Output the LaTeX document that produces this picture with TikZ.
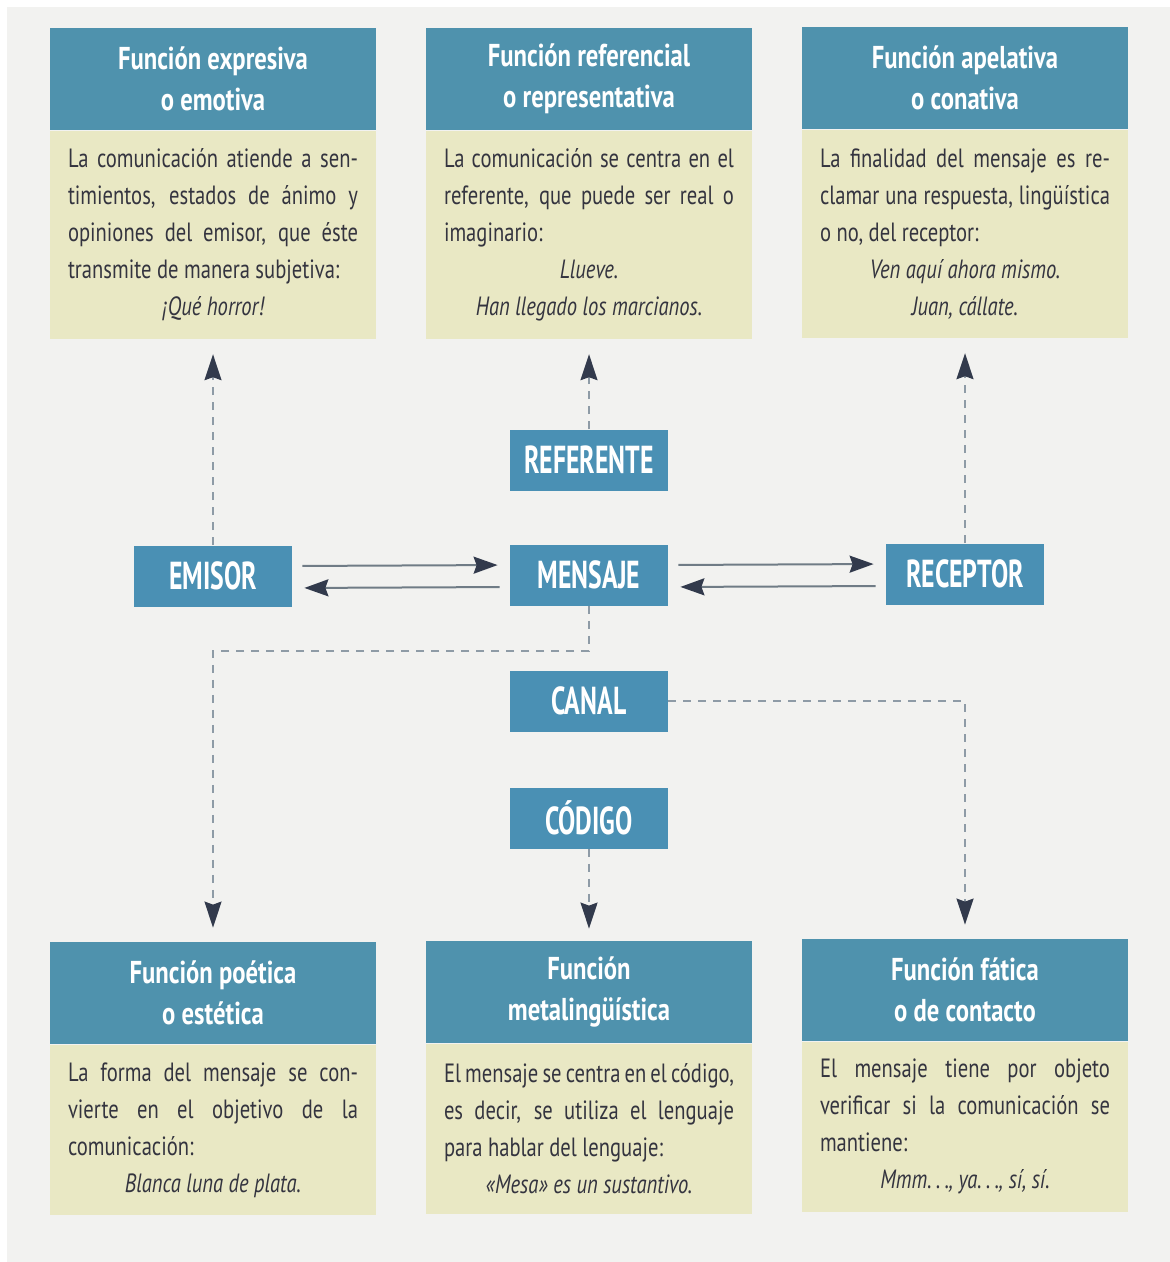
\documentclass[tikz,border=0pt]{standalone}
\usepackage{fontspec}
\usepackage{xcolor}
\usetikzlibrary{arrows.meta}

\setmainfont{PT Sans}[FakeStretch=0.78]
\newfontfamily\agentfont{PT Sans}[FakeStretch=0.66]

\definecolor{bgcolor}{HTML}{F2F2F0}
\definecolor{headblue}{HTML}{4F92AD}
\definecolor{nodeblue}{HTML}{4A90B4}
\definecolor{bodyyellow}{HTML}{E9E8C4}
\definecolor{inkgray}{HTML}{34343F}
\definecolor{tipdark}{HTML}{323A4C}
\definecolor{dashgray}{HTML}{8E9BA6}
\definecolor{linegray}{HTML}{707C86}

\tikzset{
  titlebox/.style={fill=headblue, text=white, minimum width=163pt, minimum height=51pt,
    inner sep=0pt, align=center, font=\bfseries\fontsize{15.8}{20.5}\selectfont},
  textbox/.style={fill=bodyyellow, text=inkgray, text width=145pt, inner xsep=9pt,
    inner ysep=0pt, align=justify, anchor=north, font=\fontsize{13.2}{18.5}\selectfont},
  agent/.style={fill=nodeblue, text=white, minimum width=79pt, minimum height=30.5pt,
    inner sep=0pt, font=\agentfont\bfseries\fontsize{19.5}{20}\selectfont},
  flow/.style={draw=linegray, line width=1pt, -{Stealth[length=12pt,width=8.5pt,inset=1.5pt,color=tipdark,fill=tipdark]},
    shorten <=5pt, shorten >=6pt},
  dashflow/.style={draw=dashgray, line width=1pt, dash pattern=on 4pt off 3.5pt,
    -{Stealth[length=13pt,width=8.5pt,inset=1.5pt,color=tipdark,fill=tipdark]}}
}

\newcommand{\sample}[1]{\par{\centering\itshape #1\par}}

\begin{document}
\begin{tikzpicture}[x=0.5pt, y=-0.5pt]
      \fill[white] (0,0) rectangle (1170,1262);
      \fill[bgcolor] (7,7) rectangle (1170,1262);
      \useasboundingbox (0,0) rectangle (1170,1262);

      % upper functions
      \node[titlebox] (fexp-h) at (213,79) {Función expresiva\\o emotiva};
      \node[textbox, minimum height=104pt] (fexp-b) at (fexp-h.south) {La comunicación atiende a sen-\linebreak
        timientos, estados de ánimo y\linebreak opiniones del emisor, que éste\linebreak
        transmite de manera subjetiva:\sample{¡Qué horror!}};

      \node[titlebox] (fref-h) at (589,79) {Función referencial\\o representativa};
      \node[textbox, minimum height=104pt] (fref-b) at (fref-h.south) {La comunicación se centra en el\linebreak
        referente, que puede ser real o\linebreak imaginario:\sample{Llueve.\\Han llegado los marcianos.}};

      \node[titlebox] (fape-h) at (965,78) {Función apelativa\\o conativa};
      \node[textbox, minimum height=104pt] (fape-b) at (fape-h.south) {La finalidad del mensaje es re-\linebreak
        clamar una respuesta, lingüística\linebreak o no, del receptor:\sample{Ven aquí ahora mismo.\\Juan, cállate.}};

      % lower functions
      \node[titlebox] (fpoe-h) at (213,993) {Función poética\\o estética};
      \node[textbox, minimum height=85pt] (fpoe-b) at (fpoe-h.south) {La forma del mensaje se con-\linebreak
        vierte en el objetivo de la\linebreak comunicación:\sample{Blanca luna de plata.}};

      \node[titlebox] (fmet-h) at (589,992) {Función\\metalingüística};
      \node[textbox, minimum height=85pt] (fmet-b) at (fmet-h.south) {El mensaje se centra en el código,\linebreak
        es decir, se utiliza el lenguaje\linebreak para hablar del lenguaje:\sample{«Mesa» es un sustantivo.}};

      \node[titlebox] (ffat-h) at (965,990) {Función fática\\o de contacto};
      \node[textbox, minimum height=85pt] (ffat-b) at (ffat-h.south) {El mensaje tiene por objeto\linebreak
        verificar si la comunicación se\linebreak mantiene:\sample{Mmm.\,.\,., ya.\,.\,., sí, sí.}};

      % elements of communication
      \foreach \n/\x/\y/\t in {referente/589/460/REFERENTE, emisor/213/576/EMISOR,
          mensaje/589/575/MENSAJE, receptor/965/574/RECEPTOR,
          canal/589/701/CANAL, codigo/589/818/CÓDIGO} {
          \node[agent] (\n) at (\x,\y) {\t};
      }

      \draw[flow] ([yshift=5pt]emisor.east) -- ([yshift=5pt]mensaje.west);
      \draw[flow] ([yshift=-6pt]mensaje.west) -- ([yshift=-6pt]emisor.east);
      \draw[flow] ([yshift=5pt]mensaje.east) -- ([yshift=5pt]receptor.west);
      \draw[flow] ([yshift=-6pt]receptor.west) -- ([yshift=-6pt]mensaje.east);

      \draw[dashflow, shorten >=7.5pt] (emisor.north) -- (fexp-b.south);
      \draw[dashflow, shorten >=7.5pt] (referente.north) -- (fref-b.south);
      \draw[dashflow, shorten >=7.5pt] (receptor.north) -- (fape-b.south);

      \draw[dashflow, shorten >=7pt] (mensaje.south) -- ++(0,45) -| (fpoe-h.north);
      \draw[dashflow, shorten >=7pt] (canal.east) -| (ffat-h.north);
      \draw[dashflow, shorten >=6pt] (codigo.south) -- (fmet-h.north);
    \end{tikzpicture}
\end{document}
